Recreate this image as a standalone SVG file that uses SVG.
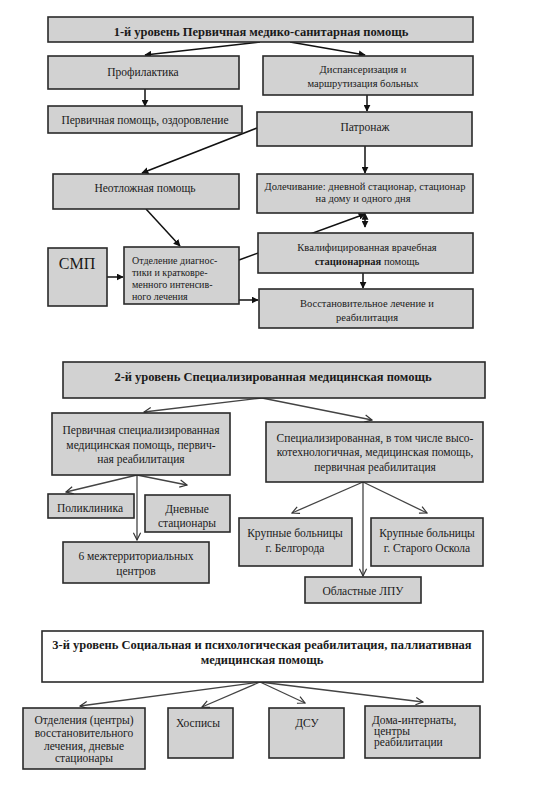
<svg xmlns="http://www.w3.org/2000/svg" width="536" height="806" viewBox="0 0 536 806">
<defs>
<marker id="af" viewBox="0 0 10 10" refX="9" refY="5" markerWidth="7" markerHeight="7" orient="auto" markerUnits="userSpaceOnUse"><path d="M0,0 L10,5 L0,10 z" fill="#111"/></marker>
<marker id="ao" viewBox="0 0 10 10" refX="9" refY="5" markerWidth="9" markerHeight="9" orient="auto" markerUnits="userSpaceOnUse"><path d="M1,1 L9,5 L1,9" fill="none" stroke="#333" stroke-width="1.3"/></marker>
<marker id="afs" viewBox="0 0 10 10" refX="1" refY="5" markerWidth="7" markerHeight="7" orient="auto-start-reverse" markerUnits="userSpaceOnUse"><path d="M0,0 L10,5 L0,10 z" fill="#111"/></marker>
</defs>
<style>
rect.b{fill:#d2d2d2;stroke:#2a2a2a;stroke-width:1.6}
rect.w{fill:#ffffff;stroke:#2a2a2a;stroke-width:1.6}
text{font-family:"Liberation Serif","DejaVu Serif",serif;font-size:11.5px;fill:#1a1a1a}
text.c{text-anchor:middle}
text.t{font-weight:bold;font-size:12.5px}
text.sm{font-size:10.5px}
text.xs{font-size:10px}
.s1{stroke:#111;stroke-width:1.5;fill:none;marker-end:url(#af)}
.s2{stroke:#444;stroke-width:1.3;fill:none;marker-end:url(#ao)}
</style>
<rect width="536" height="806" fill="#fff"/>
<g id="connectors">
<line class="s1" x1="260" y1="42" x2="145" y2="55"/>
<line class="s1" x1="290" y1="42" x2="365" y2="55"/>
<line class="s1" x1="145" y1="89" x2="145" y2="106"/>
<line class="s1" x1="367" y1="95" x2="367" y2="111"/>
<line class="s1" x1="257" y1="128" x2="142" y2="173"/>
<line class="s1" x1="365" y1="146" x2="365" y2="173"/>
<line class="s1" x1="146" y1="209" x2="180" y2="246"/>
<line class="s1" x1="107" y1="277" x2="123" y2="277"/>
<line class="s1" x1="239" y1="260" x2="365" y2="214"/>
<line stroke="#111" stroke-width="1.5" x1="365" y1="219" x2="365" y2="227" marker-start="url(#afs)" marker-end="url(#af)"/>
<line class="s1" x1="363" y1="273" x2="363" y2="288"/>
<line class="s1" x1="239" y1="300" x2="258" y2="300"/>
<line class="s2" x1="262" y1="398" x2="144" y2="412"/>
<line class="s2" x1="262" y1="398" x2="372" y2="420"/>
<line class="s2" x1="137" y1="475" x2="66" y2="492"/>
<line class="s2" x1="137" y1="475" x2="187" y2="485"/>
<line class="s2" x1="137" y1="475" x2="137" y2="540"/>
<line class="s2" x1="363" y1="482" x2="292" y2="513"/>
<line class="s2" x1="363" y1="482" x2="427" y2="513"/>
<line class="s2" x1="363" y1="482" x2="363" y2="576"/>
<line class="s2" x1="260" y1="682" x2="80" y2="706"/>
<line class="s2" x1="260" y1="682" x2="202" y2="707"/>
<line class="s2" x1="260" y1="682" x2="305" y2="703"/>
<line class="s2" x1="260" y1="682" x2="423" y2="702"/>
</g>
<g id="level1">
<rect class="b" x="48" y="17" width="425" height="25"/>
<text class="c t" x="261" y="36">1-й уровень Первичная медико-санитарная помощь</text>
</g>
<g id="profilaktika">
<rect class="b" x="48" y="56" width="191" height="33"/>
<text class="c" x="143" y="76">Профилактика</text>
</g>
<g id="dispanser">
<rect class="b" x="263" y="56" width="210" height="39"/>
<text class="c sm" x="363" y="73">Диспансеризация и</text>
<text class="c sm" x="363" y="87">маршрутизация больных</text>
</g>
<g id="pervichnaya">
<rect class="b" x="48" y="106" width="194" height="27"/>
<text class="c" x="145" y="124">Первичная помощь, оздоровление</text>
</g>
<g id="patronazh">
<rect class="b" x="257" y="112" width="215" height="34"/>
<text class="c" x="365" y="131">Патронаж</text>
</g>
<g id="neotlozhnaya">
<rect class="b" x="53" y="174" width="186" height="35"/>
<text class="c" x="145" y="192">Неотложная помощь</text>
</g>
<g id="dolechivanie">
<rect class="b" x="257" y="174" width="216" height="39"/>
<text class="c sm" x="365" y="190">Долечивание: дневной стационар, стационар</text>
<text class="c sm" x="363" y="202">на  дому и одного дня</text>
</g>
<g id="smp">
<rect class="b" x="48" y="248" width="59" height="58"/>
<text class="c" x="77" y="269" style="font-size:16px">СМП</text>
</g>
<g id="otdelenie">
<rect class="b" x="124" y="247" width="115" height="57"/>
<text class="xs" x="132" y="264">Отделение диагнос-</text>
<text class="xs" x="132" y="276">тики и кратковре-</text>
<text class="xs" x="132" y="288">менного интенсив-</text>
<text class="xs" x="132" y="300">ного лечения</text>
</g>
<g id="kvalif">
<rect class="b" x="258" y="233" width="215" height="40"/>
<text class="c sm" x="367" y="251">Квалифицированная врачебная</text>
<text class="c sm" x="367" y="265"><tspan font-weight="bold">стационарная</tspan> помощь</text>
</g>
<g id="vosstanov">
<rect class="b" x="259" y="289" width="214" height="39"/>
<text class="c sm" x="367" y="307">Восстановительное лечение и</text>
<text class="c sm" x="367" y="321">реабилитация</text>
</g>
<g id="level2">
<rect class="b" x="63" y="362" width="422" height="36"/>
<text class="c t" x="273" y="381">2-й уровень Специализированная медицинская помощь</text>
</g>
<g id="pervspec">
<rect class="b" x="52" y="413" width="178" height="62"/>
<text class="c" x="141" y="434">Первичная специализированная</text>
<text class="c" x="141" y="449">медицинская помощь, первич-</text>
<text class="c" x="141" y="463">ная реабилитация</text>
</g>
<g id="specializ">
<rect class="b" x="266" y="422" width="217" height="60"/>
<text class="c" x="375" y="442">Специализированная, в том числе высо-</text>
<text class="c" x="375" y="456">котехнологичная, медицинская помощь,</text>
<text class="c" x="375" y="471">первичная реабилитация</text>
</g>
<g id="poliklinika">
<rect class="b" x="48" y="494" width="86" height="24"/>
<text class="c" x="90" y="512">Поликлиника</text>
</g>
<g id="dnevnye">
<rect class="b" x="145" y="495" width="85" height="37"/>
<text class="c" x="187" y="513">Дневные</text>
<text class="c" x="187" y="527">стационары</text>
</g>
<g id="mezhterr">
<rect class="b" x="63" y="542" width="146" height="41"/>
<text class="c" x="136" y="560">6 межтерриториальных</text>
<text class="c" x="136" y="575">центров</text>
</g>
<g id="belgorod">
<rect class="b" x="239" y="518" width="113" height="48"/>
<text class="c" x="295" y="537">Крупные больницы</text>
<text class="c" x="295" y="552">г. Белгорода</text>
</g>
<g id="oskol">
<rect class="b" x="371" y="518" width="112" height="48"/>
<text class="c" x="427" y="537">Крупные больницы</text>
<text class="c" x="427" y="552">г. Старого Оскола</text>
</g>
<g id="oblastnye">
<rect class="b" x="305" y="577" width="116" height="26"/>
<text class="c" x="363" y="595">Областные ЛПУ</text>
</g>
<g id="level3">
<rect class="w" x="42" y="631" width="441" height="51"/>
<text class="c t" x="262" y="649">3-й уровень Социальная и психологическая реабилитация, паллиативная</text>
<text class="c t" x="262" y="664">медицинская помощь</text>
</g>
<g id="otdeleniya">
<rect class="b" x="23" y="708" width="122" height="61"/>
<text class="c" x="84" y="724">Отделения (центры)</text>
<text class="c" x="84" y="737">восстановительного</text>
<text class="c" x="84" y="750">лечения, дневые</text>
<text class="c" x="84" y="762">стационары</text>
</g>
<g id="hospisy">
<rect class="b" x="168" y="708" width="65" height="50"/>
<text x="176" y="727">Хосписы</text>
</g>
<g id="dsu">
<rect class="b" x="269" y="708" width="75" height="50"/>
<text class="c" x="307" y="727">ДСУ</text>
</g>
<g id="doma">
<rect class="b" x="365" y="706" width="115" height="52"/>
<text x="372" y="724">Дома-интернаты,</text>
<text x="374" y="735">центры</text>
<text x="374" y="746">реабилитации</text>
</g>
</svg>
